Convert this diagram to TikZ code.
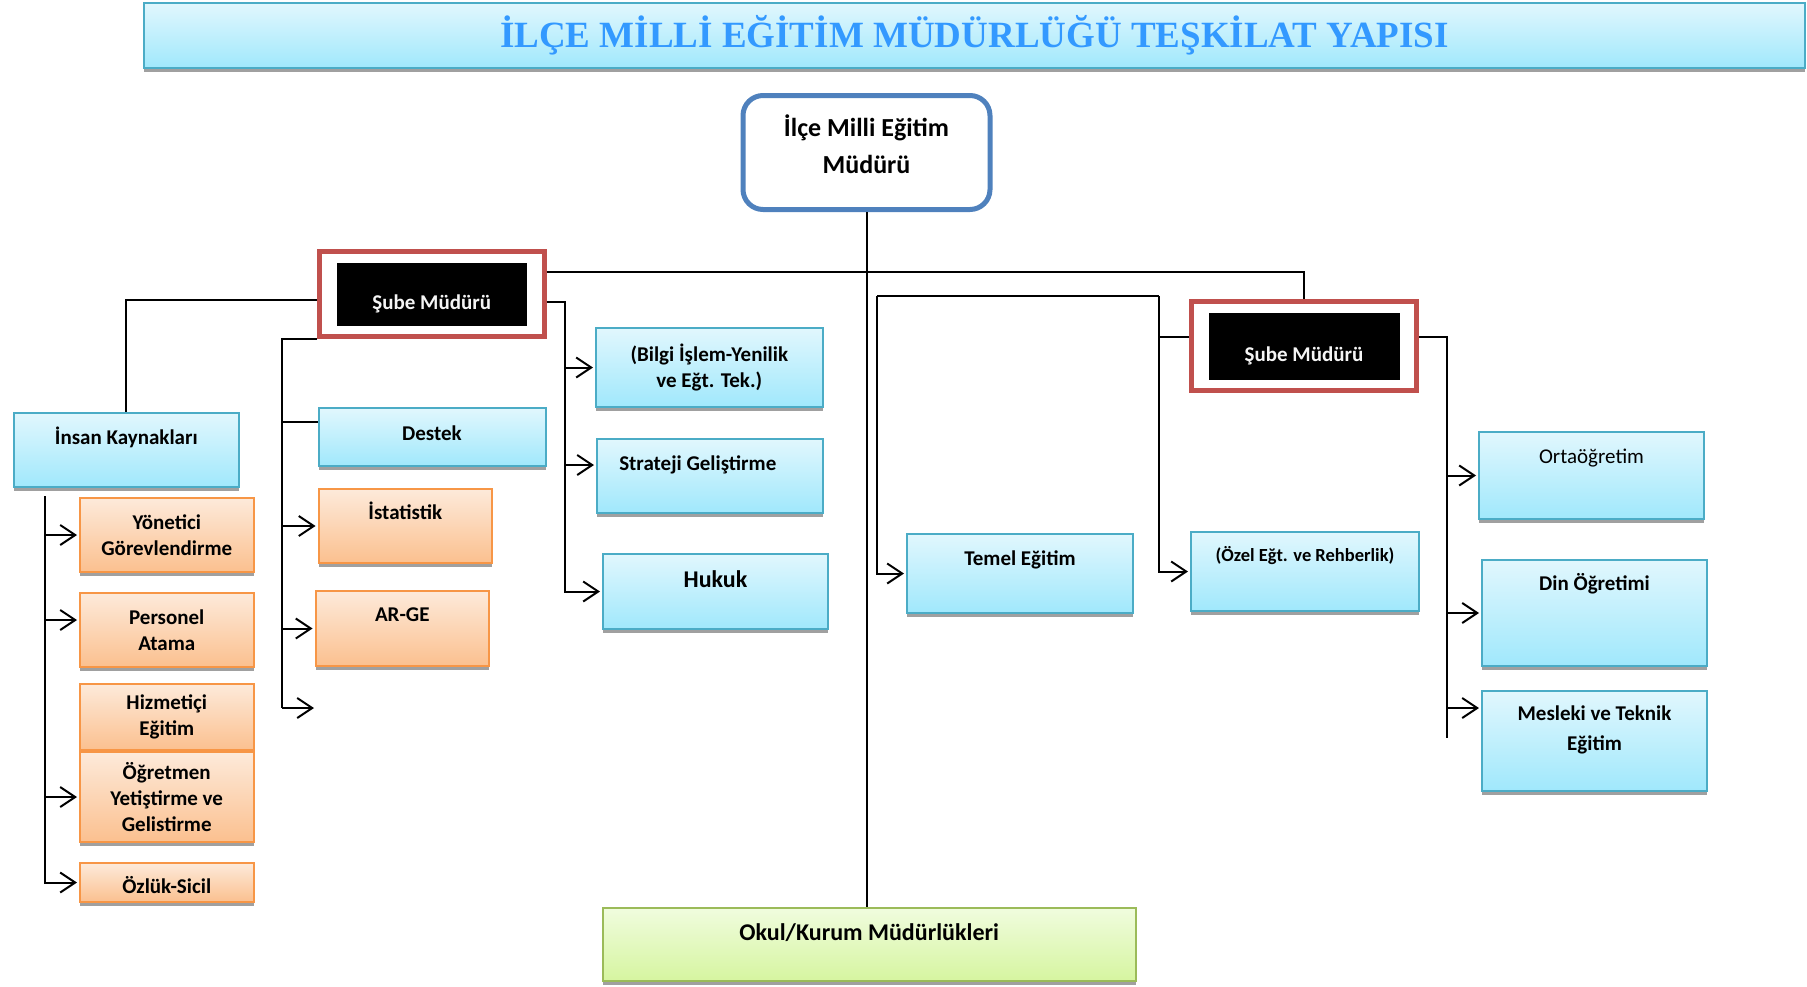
\documentclass[tikz,border=0pt]{standalone}
\usepackage{fontspec}
\setmainfont{Carlito}
\newfontfamily\titlefont{Liberation Serif}
\usetikzlibrary{arrows.meta,shadows}
\definecolor{cyantop}{RGB}{225,247,253}
\definecolor{cyanbot}{RGB}{160,232,252}
\definecolor{cyanline}{RGB}{75,172,198}
\definecolor{orangetop}{RGB}{253,234,218}
\definecolor{orangebot}{RGB}{251,192,143}
\definecolor{orangeline}{RGB}{247,150,70}
\definecolor{greentop}{RGB}{240,252,222}
\definecolor{greenbot}{RGB}{214,245,160}
\definecolor{greenline}{RGB}{155,187,89}
\definecolor{framered}{RGB}{192,80,77}
\definecolor{chiefblue}{RGB}{79,129,189}
\definecolor{titleblue}{RGB}{51,153,255}
\definecolor{shadowgray}{RGB}{160,160,160}

\begin{document}
\begin{tikzpicture}[x=1pt,y=-1pt,
 line/.style={line width=2pt},
 arr/.style={line,-{Straight Barb[length=15pt,width=20pt]},shorten >=2pt},
 box/.style={draw=#1line,line width=2pt,top color=#1top,bottom color=#1bot,
  inner sep=0pt,align=center,font=\fontsize{21}{26}\selectfont\bfseries,
  drop shadow={shadow xshift=0pt,shadow yshift=-4pt,fill=shadowgray,opacity=1}},
 ttop/.style={text height=15pt,text depth=#1},
 sube/.style={draw=framered,line width=5pt,fill=white,inner sep=0pt,text=gray!8,
  font=\fontsize{21}{26}\selectfont\bfseries,text height=34pt,text depth=4pt,
  path picture={\fill[black] ([shift={(17pt,-11pt)}]path picture bounding box.north west)
   rectangle ([shift={(-17pt,11pt)}]path picture bounding box.south east);}}]
\useasboundingbox (0,0) rectangle (1807,986);

% Title bar
\node[box=cyan,minimum width=1661,minimum height=65,text=titleblue,
 font=\titlefont\bfseries\fontsize{37}{40}\selectfont] (title) at (974.5,35.6)
 {İLÇE MİLLİ EĞİTİM MÜDÜRLÜĞÜ TEŞKİLAT YAPISI};

% Top of the chart
\node[draw=chiefblue,line width=5pt,rounded corners=20pt,fill=white,inner sep=0pt,
 align=center,font=\fontsize{26}{37}\selectfont\bfseries,text depth=17pt,
 minimum width=247,minimum height=114] (mudur) at (866.5,152.5)
 {İlçe Milli Eğitim\\Müdürü};
\node[sube,minimum width=224.5,minimum height=85] (sube1) at (431.75,294) {Şube Müdürü};
\node[sube,minimum width=225,minimum height=89] (sube2) at (1304,346) {Şube Müdürü};
\node[box=green,minimum width=533,minimum height=73,ttop=22pt,
 font=\fontsize{24}{28}\selectfont\bfseries] (okul) at (869.2,944.4) {Okul/Kurum Müdürlükleri};

% Left branch
\node[box=cyan,minimum width=225.4,minimum height=74,ttop=27pt] (ik) at (126.3,450) {İnsan Kaynakları};
\node[box=orange,minimum width=173.5,minimum height=74] (yonetici) at (166.75,535) {Yönetici\\Görevlendirme};
\node[box=orange,minimum width=173.5,minimum height=74] (personel) at (166.75,630) {Personel\\Atama};
\node[box=orange,minimum width=173.5,minimum height=66] (hizmet) at (166.75,717) {Hizmetiçi\\Eğitim};
\node[box=orange,minimum width=173.5,minimum height=90] (ogretmen) at (166.75,797) {Öğretmen\\Yetiştirme ve\\Gelistirme};
\node[box=orange,minimum width=173.5,minimum height=39,text height=24pt,text depth=3pt] (ozluk) at (166.75,882.5) {Özlük-Sicil};
\node[box=cyan,minimum width=227,minimum height=58,ttop=9pt] (destek) at (432,437) {Destek};
\node[box=orange,minimum width=173.4,minimum height=74,ttop=29pt] (istat) at (405.3,526) {İstatistik};
\node[box=orange,minimum width=173.4,minimum height=75,ttop=30pt] (arge) at (402.3,628.5) {AR-GE};
\node[box=cyan,minimum width=226.6,minimum height=79] (bilgi) at (709.3,367.5) {(Bilgi İşlem-Yenilik\\ve Eğt. Tek.)};
\node[box=cyan,minimum width=225.6,minimum height=74,ttop=27pt] (strateji) at (709.8,476) {Strateji Geliştirme\hspace*{24pt}};
\node[box=cyan,minimum width=225,minimum height=75,ttop=24pt,
 font=\fontsize{24}{28}\selectfont\bfseries] (hukuk) at (715.5,591.5) {Hukuk};

% Right branch
\node[box=cyan,minimum width=226,minimum height=79,ttop=32pt] (temel) at (1020,573.5) {Temel Eğitim};
\node[box=cyan,minimum width=228,minimum height=79,ttop=36pt,
 font=\fontsize{18.5}{22}\selectfont\bfseries] (ozel) at (1305,571.5) {(Özel Eğt. ve Rehberlik)};
\node[box=cyan,minimum width=225,minimum height=87,ttop=40pt,
 font=\fontsize{21}{26}\selectfont] (orta) at (1591.5,475.5) {Ortaöğretim};
\node[box=cyan,minimum width=225,minimum height=106,ttop=61pt] (din) at (1594.5,613) {Din Öğretimi};
\node[box=cyan,minimum width=225,minimum height=100,text depth=25pt,
 font=\fontsize{21}{30}\selectfont\bfseries] (meslek) at (1594.5,741) {Mesleki ve Teknik\\Eğitim};

% Junction points of the connectors
\coordinate (bus) at (0,272);
\coordinate (lx) at (282,0);
\coordinate (lfree) at (316,708);
\coordinate (rx) at (565,0);
\coordinate (hx) at (45,0);
\coordinate (mbus) at (877,296);
\coordinate (obus) at (1158.5,296);
\coordinate (sx) at (1446.6,0);
\coordinate (send) at (1446.6,738);

\draw[line] (mudur.south) -- (mudur.south |- okul.north);
\draw[line] (sube1.east |- bus) -| (sube2.north);
\draw[line] ([yshift=-6pt]sube1.west) -| (ik.north);
\draw[line] (sube1.south west) -| (lx |- lfree);
\draw[line] ([yshift=15pt]destek.west) -- ([yshift=15pt]destek.west -| lx);
\draw[arr] (lx |- istat.west) -- (istat.west);
\draw[arr] (lx |- arge.west) -- (arge.west);
\draw[arr] (lx |- lfree) -- (lfree);
\draw[arr] ([yshift=-8pt]sube1.east) -| (rx |- hukuk.west) -- (hukuk.west);
\draw[arr] (rx |- bilgi.west) -- (bilgi.west);
\draw[arr] ([yshift=11pt]strateji.west -| rx) -- ([yshift=11pt]strateji.west);
\draw[arr] ([yshift=-8pt]ik.south -| hx) |- (ozluk.west);
\draw[arr] (hx |- yonetici.west) -- (yonetici.west);
\draw[arr] ([yshift=10pt]personel.west -| hx) -- ([yshift=10pt]personel.west);
\draw[arr] (hx |- ogretmen.west) -- (ogretmen.west);
\draw[line] (mbus) -- (obus);
\draw[arr] (mbus) |- (temel.west);
\draw[arr] (obus) |- (ozel.west);
\draw[line] ([yshift=9pt]sube2.west) -- ([yshift=9pt]sube2.west -| obus);
\draw[line] ([yshift=9pt]sube2.east) -| (send);
\draw[arr] (sx |- orta.west) -- (orta.west);
\draw[arr] (sx |- din.west) -- (din.west);
\draw[arr] ([yshift=33pt]meslek.west -| sx) -- ([yshift=33pt]meslek.west);
\end{tikzpicture}
\end{document}
